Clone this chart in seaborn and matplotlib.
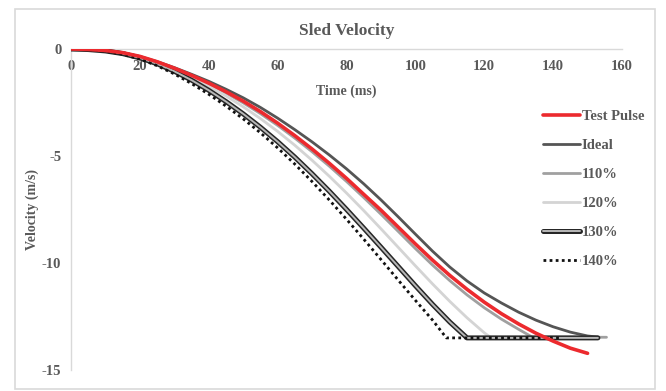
import numpy as np
import pandas as pd
import matplotlib
matplotlib.use("Agg")
import matplotlib.pyplot as plt
import matplotlib.patheffects as pe
from matplotlib.patches import Rectangle
import seaborn as sns

# Values (time in ms, velocity in m/s)
t_test = [0, 5, 10, 15, 20, 25, 30, 35, 40, 45, 50, 55, 60, 65, 70, 75, 80, 85, 90, 95,
          100, 105, 110, 115, 120, 125, 130, 135, 140, 145, 150]
v_test = [0, -0.02, -0.07, -0.17, -0.345, -0.595, -0.895, -1.23, -1.595, -1.995, -2.435,
          -2.925, -3.465, -4.05, -4.675, -5.34, -6.045, -6.79, -7.53, -8.32, -9.11, -9.87,
          -10.58, -11.23, -11.83, -12.37, -12.85, -13.28, -13.65, -13.98, -14.22]

t_ideal = [0, 5, 10, 15, 20, 25, 30, 35, 40, 45, 50, 55, 60, 65, 70, 75, 80, 85, 90, 95,
           100, 105, 110, 115, 120, 125, 130, 135, 140, 145, 150, 153]
v_ideal = [0, -0.02, -0.07, -0.17, -0.35, -0.59, -0.87, -1.18, -1.51, -1.88, -2.28, -2.73,
           -3.23, -3.77, -4.34, -4.95, -5.6, -6.3, -7.05, -7.84, -8.65, -9.45, -10.19,
           -10.84, -11.4, -11.87, -12.3, -12.67, -12.98, -13.23, -13.41, -13.46]

t_110 = [0, 5, 10, 15, 20, 25, 30, 35, 40, 45, 50, 55, 60, 65, 70, 75, 80, 85, 90, 95,
         100, 105, 110, 115, 120, 125, 130, 134, 155.5]
v_110 = [0, -0.02, -0.07, -0.175, -0.355, -0.605, -0.91, -1.255, -1.635, -2.055, -2.515,
         -3.02, -3.57, -4.165, -4.8, -5.475, -6.19, -6.94, -7.72, -8.52, -9.325, -10.1,
         -10.825, -11.49, -12.09, -12.625, -13.1, -13.47, -13.47]

t_120 = [0, 5, 10, 15, 20, 25, 30, 35, 40, 45, 50, 55, 60, 65, 70, 75, 80, 85, 90, 95,
         100, 105, 110, 115, 120, 122, 150]
v_120 = [0, -0.02, -0.075, -0.185, -0.37, -0.63, -0.95, -1.32, -1.735, -2.195, -2.7,
         -3.25, -3.85, -4.5, -5.2, -5.945, -6.73, -7.55, -8.4, -9.265, -10.13, -10.98,
         -11.795, -12.56, -13.26, -13.5, -13.5]

t_130 = [0, 5, 10, 15, 20, 25, 30, 35, 40, 45, 50, 55, 60, 65, 70, 75, 80, 85, 90, 95,
         100, 105, 110, 115, 153]
v_130 = [0, -0.025, -0.09, -0.215, -0.415, -0.69, -1.04, -1.455, -1.93, -2.455, -3.03,
         -3.655, -4.33, -5.055, -5.83, -6.645, -7.495, -8.37, -9.26, -10.16, -11.06,
         -11.935, -12.76, -13.5, -13.5]

t_140 = [0, 5, 10, 15, 20, 25, 30, 35, 40, 45, 50, 55, 60, 65, 70, 75, 80, 85, 90, 95,
         100, 105, 109, 142]
v_140 = [0, -0.03, -0.105, -0.245, -0.47, -0.78, -1.165, -1.615, -2.115, -2.665, -3.265,
         -3.915, -4.62, -5.38, -6.195, -7.055, -7.955, -8.885, -9.835, -10.795, -11.745,
         -12.67, -13.5, -13.5]

x_ticks = [0, 20, 40, 60, 80, 100, 120, 140, 160]
y_ticks = [0, -5, -10, -15]

sns.set_theme(style="white")
plt.rcParams['font.family'] = ['Liberation Serif', 'DejaVu Serif']
plt.rcParams['axes.unicode_minus'] = False
txt = '#595959'

fig = plt.figure(figsize=(6.66, 3.91), dpi=100)
ax = fig.add_axes([71/666, 1 - 370/391, (622 - 71)/666, (370 - 49)/391])

# light outer frame of the chart area
fig.patches.append(Rectangle((15/666, 2/391), 640/666, 380/391, transform=fig.transFigure,
                             fill=False, edgecolor='#d9d9d9', linewidth=1.2))

series = [
    ("Test Pulse", t_test, v_test, dict(color='#ec2a2e', linewidth=2.6, zorder=6)),
    ("Ideal", t_ideal, v_ideal, dict(color='#555555', linewidth=2.0, zorder=3)),
    ("110%", t_110, v_110, dict(color='#a0a0a0', linewidth=2.0, zorder=4)),
    ("120%", t_120, v_120, dict(color='#d4d4d4', linewidth=2.0, zorder=4)),
    ("130%", t_130, v_130, dict(color='#b8b8b8', linewidth=1.4, zorder=5,
                                path_effects=[pe.Stroke(linewidth=3.6, foreground='#262626'), pe.Normal()])),
    ("140%", t_140, v_140, dict(color='#111111', linewidth=2.0, linestyle=(0, (1, 1.2)), zorder=5)),
]

for name, t, v, style in series:
    df = pd.DataFrame({"Time": t, "Velocity": v})
    sns.lineplot(data=df, x="Time", y="Velocity", ax=ax, label=name,
                 sort=False, estimator=None, **style)

ax.set_xlim(0, 160)
ax.set_ylim(-15, 0)
ax.set_xticks(x_ticks)
ax.set_yticks(y_ticks)
ax.spines['bottom'].set_position(('data', 0))
for s in ['top', 'right']:
    ax.spines[s].set_visible(False)
for s in ['bottom', 'left']:
    ax.spines[s].set_color('#d9d9d9')
    ax.spines[s].set_linewidth(1.0)
ax.tick_params(length=0, labelsize=10.5, colors=txt)
ax.tick_params(axis='x', pad=8)
ax.tick_params(axis='y', pad=7)
for lab in ax.get_xticklabels() + ax.get_yticklabels():
    lab.set_fontweight('bold')

ax.set_xlabel("Time (ms)", fontsize=10, fontweight='bold', color=txt, labelpad=8)
ax.set_ylabel("Velocity (m/s)", fontsize=10, fontweight='bold', color=txt, labelpad=2)
ax.set_title("Sled Velocity", fontsize=12.5, fontweight='bold', color=txt, pad=10)

leg = ax.legend(loc='upper left', bbox_to_anchor=(530/666, 1 - 97/391),
                bbox_transform=fig.transFigure, frameon=False,
                handlelength=2.5, handletextpad=0.15, labelspacing=1.08,
                prop={'weight': 'bold', 'size': 10.5})
for text in leg.get_texts():
    text.set_color(txt)

fig.savefig("out.png", dpi=100)
